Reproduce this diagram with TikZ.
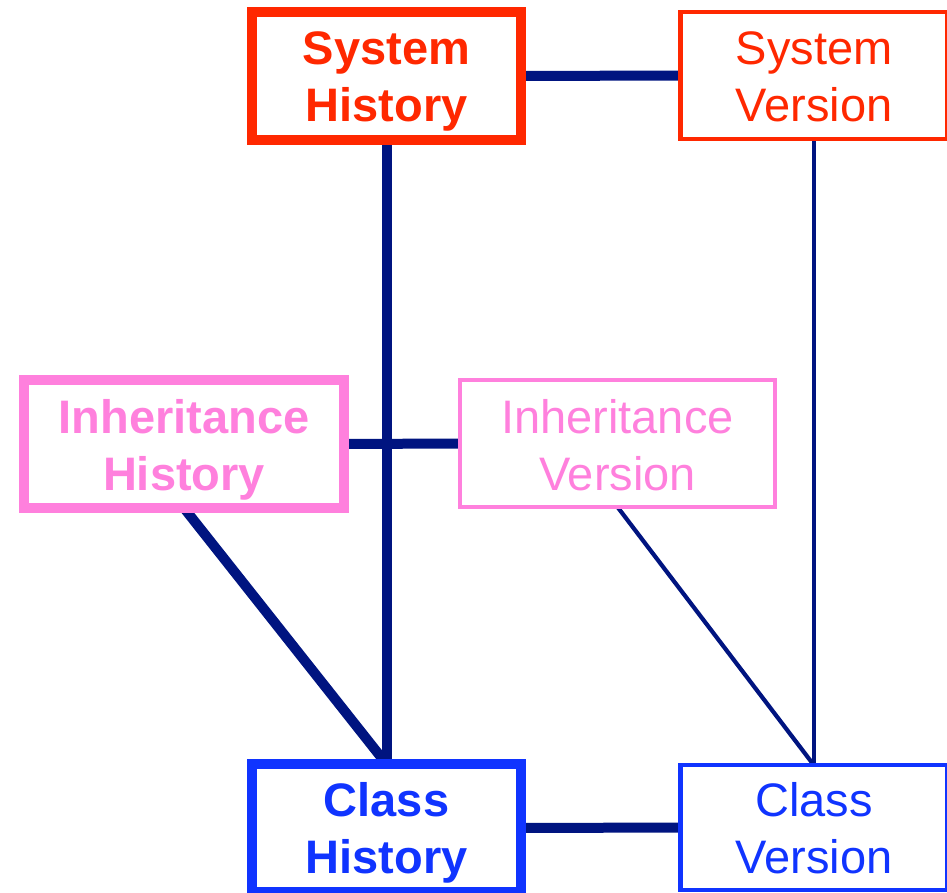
\documentclass[tikz,border=0pt]{standalone}
\usepackage{fontspec}
\setmainfont{Liberation Sans}
\usetikzlibrary{backgrounds}

\definecolor{histred}{RGB}{255,40,0}
\definecolor{histpink}{RGB}{255,128,221}
\definecolor{histblue}{RGB}{16,52,255}
\definecolor{linknavy}{RGB}{0,20,128}

\tikzset{
  box/.style={rectangle, draw, fill=white, inner sep=0pt, outer sep=0pt},
  histbox/.style={box, line width=10pt},
  versbox/.style={box, line width=4.5pt},
  lbl/.style={anchor=base, inner sep=0pt, font=\fontsize{47}{56}\selectfont},
  blbl/.style={lbl, font=\fontsize{47}{56}\selectfont\bfseries},
  strong/.style={draw=linknavy, line width=10pt},
  weak/.style={draw=linknavy, line width=4.2pt},
}

\begin{document}
\begin{tikzpicture}[x=1pt, y=-1pt]
\useasboundingbox (0,0) rectangle (947,893);

% boxes: centre and size measured between stroke centres
\node[histbox, draw=histred,  minimum width=269pt, minimum height=128pt] (sh) at (386.5,76) {};
\node[versbox, draw=histred,  minimum width=266.5pt, minimum height=127pt] (sv) at (813.75,75.5) {};
\node[histbox, draw=histpink, minimum width=320pt, minimum height=128pt] (ih) at (184,444) {};
\node[versbox, draw=histpink, minimum width=315pt, minimum height=127pt] (iv) at (617.5,443.5) {};
\node[histbox, draw=histblue, minimum width=269pt, minimum height=128pt] (ch) at (386.5,828) {};
\node[versbox, draw=histblue, minimum width=266.5pt, minimum height=125pt] (cv) at (813.75,827.5) {};

% two-line captions set on their baselines
\node[blbl, text=histred] (sh1) at (386.5,64.5) {System};
\node[blbl, text=histred] (sh2) at (386.5,121.5) {History};
\node[lbl, text=histred] (sv1) at (814,64.5) {System};
\node[lbl, text=histred] (sv2) at (814,121.5) {Version};
\node[blbl, text=histpink] (ih1) at (184,433) {Inheritance};
\node[blbl, text=histpink] (ih2) at (184,490) {History};
\node[lbl, text=histpink] (iv1) at (617.5,433) {Inheritance};
\node[lbl, text=histpink] (iv2) at (617.5,490) {Version};
\node[blbl, text=histblue] (ch1) at (386.5,816) {Class};
\node[blbl, text=histblue] (ch2) at (386.5,873) {History};
\node[lbl, text=histblue] (cv1) at (814,816) {Class};
\node[lbl, text=histblue] (cv2) at (814,873) {Version};

% connectors run underneath the boxes
\begin{scope}[on background layer]
  \path[strong] (sh.east) -- (sv.west);
  \path[strong] (sh.south) -- (ch.north);
  \path[weak]   (sv.south) -- (cv.north);
  \path[strong] (ih.east) -- (iv.west);
  \path[strong] (ih.south) -- (ch.north);
  \path[weak]   (iv.south) -- (cv.north);
  \path[strong] (ch.east) -- (cv.west);
\end{scope}
\end{tikzpicture}
\end{document}
